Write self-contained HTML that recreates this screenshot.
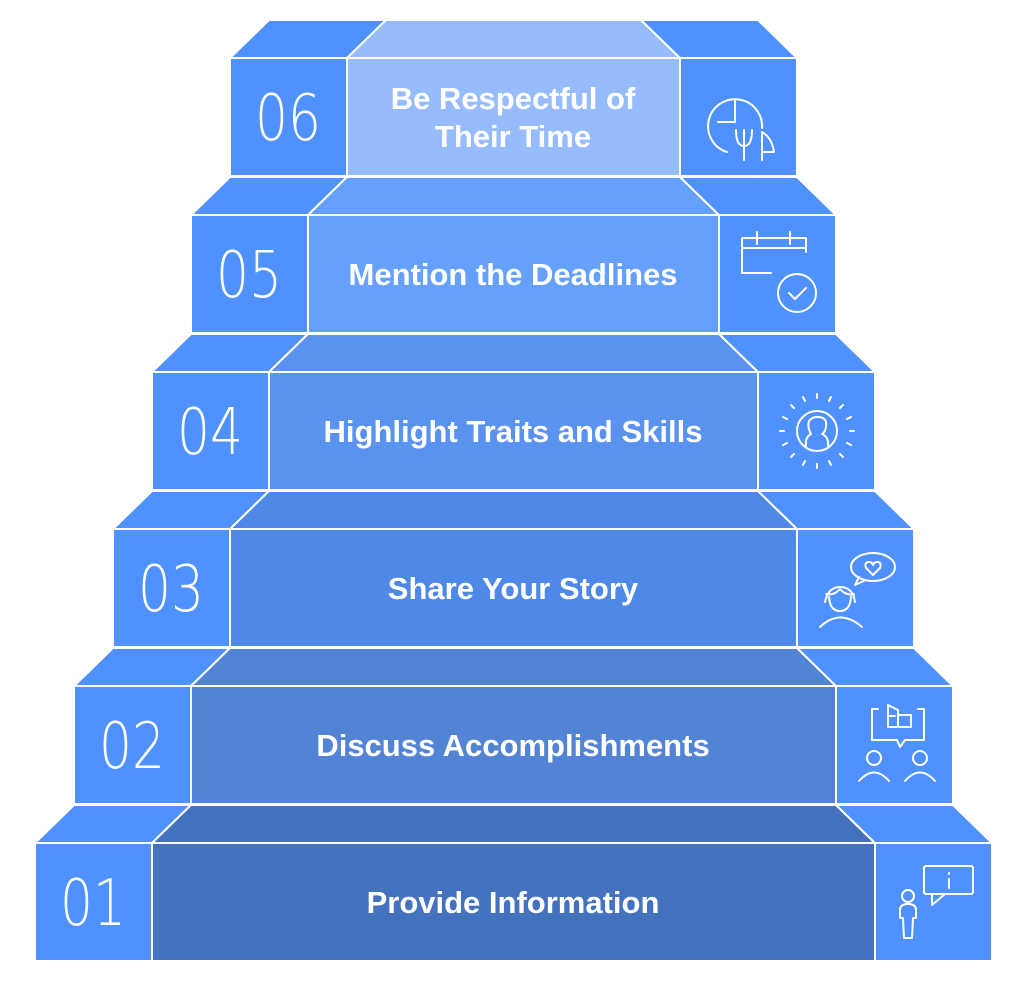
<!DOCTYPE html>
<html><head><meta charset="utf-8"><style>
html,body{margin:0;padding:0;background:#fff;width:1024px;height:993px;overflow:hidden}
svg{display:block}
.t{font-family:"Liberation Sans",sans-serif;font-weight:bold;font-size:31px;fill:#fff;text-anchor:middle}
.n{font-family:"DejaVu Sans ExtraLight","DejaVu Sans",sans-serif;font-weight:200;font-size:64px;fill:#fff;text-anchor:middle}
.s{fill:#4f91fe;stroke:#fff;stroke-width:2;stroke-linejoin:round}
.i{fill:none;stroke:#fff;stroke-width:2;stroke-linecap:round;stroke-linejoin:round}
</style></head><body>
<svg width="1024" height="993" viewBox="0 0 1024 993" xmlns="http://www.w3.org/2000/svg">
<!-- row 6 -->
<g>
<polygon class="s" points="230,58 347,58 386,20 269,20"/>
<polygon class="s" style="fill:#96bcfe" points="347,58 680,58 641,20 386,20"/>
<polygon class="s" points="680,58 797,58 758,20 641,20"/>
<rect class="s" x="230" y="58" width="117" height="118"/>
<rect class="s" style="fill:#96bcfe" x="347" y="58" width="333" height="118"/>
<rect class="s" x="680" y="58" width="117" height="118"/>
<text class="n" x="288" y="140" textLength="66" lengthAdjust="spacingAndGlyphs">06</text>
<text class="t" x="513" y="109">Be Respectful of</text>
<text class="t" x="513" y="147">Their Time</text>
<g class="i"><path d="M727,152 A27,27 0 1 1 762,128"/><path d="M718,122 H735 V101"/><path d="M744,130 V160 M736,130 Q736,146 744,146 Q752,146 752,130"/><path d="M762,160 V132 Q772,138 774,152 H762"/></g>
</g>
<!-- row 5 -->
<g>
<polygon class="s" points="191,215 308,215 347,177 230,177"/>
<polygon class="s" style="fill:#64a0fc" points="308,215 719,215 680,177 347,177"/>
<polygon class="s" points="719,215 836,215 797,177 680,177"/>
<rect class="s" x="191" y="215" width="117" height="118"/>
<rect class="s" style="fill:#64a0fc" x="308" y="215" width="411" height="118"/>
<rect class="s" x="719" y="215" width="117" height="118"/>
<text class="n" x="249" y="297" textLength="66" lengthAdjust="spacingAndGlyphs">05</text>
<text class="t" x="513" y="285">Mention the Deadlines</text>
<g class="i"><path d="M771,273 H742 V238 H806 V252"/><path d="M742,248 H806"/><path d="M757,232 V244 M790,232 V244"/><circle cx="797" cy="293" r="19"/><path d="M789,293 L795,299 L806,288"/></g>
</g>
<!-- row 4 -->
<g>
<polygon class="s" points="152,372 269,372 308,334 191,334"/>
<polygon class="s" style="fill:#5a92f0" points="269,372 758,372 719,334 308,334"/>
<polygon class="s" points="758,372 875,372 836,334 719,334"/>
<rect class="s" x="152" y="372" width="117" height="118"/>
<rect class="s" style="fill:#5a92f0" x="269" y="372" width="489" height="118"/>
<rect class="s" x="758" y="372" width="117" height="118"/>
<text class="n" x="210" y="454" textLength="66" lengthAdjust="spacingAndGlyphs">04</text>
<text class="t" x="513" y="442">Highlight Traits and Skills</text>
<g class="i" transform="translate(817,431)"><circle r="20"/><path d="M-11,15 Q-12,6 -6,3 Q-10,-4 -8,-10 Q-4,-15 2,-14 Q10,-13 9,-6 Q9,1 5,3 Q12,6 11,15"/>
<path d="M0,-37 V-33 M0,33 V37 M-37,0 H-33 M33,0 H37 M-26,-26 L-23,-23 M26,26 L23,23 M-26,26 L-23,23 M26,-26 L23,-23 M-14,-34 L-12,-30 M14,34 L12,30 M-34,-14 L-30,-12 M34,14 L30,12 M14,-34 L12,-30 M-14,34 L-12,30 M34,-14 L30,-12 M-34,14 L-30,12"/></g>
</g>
<!-- row 3 -->
<g>
<polygon class="s" points="113,529 230,529 269,491 152,491"/>
<polygon class="s" style="fill:#4f89e8" points="230,529 797,529 758,491 269,491"/>
<polygon class="s" points="797,529 914,529 875,491 758,491"/>
<rect class="s" x="113" y="529" width="117" height="118"/>
<rect class="s" style="fill:#4f89e8" x="230" y="529" width="567" height="118"/>
<rect class="s" x="797" y="529" width="117" height="118"/>
<text class="n" x="171" y="611" textLength="66" lengthAdjust="spacingAndGlyphs">03</text>
<text class="t" x="513" y="599">Share Your Story</text>
<g class="i"><ellipse cx="873" cy="567" rx="22" ry="14"/><path d="M859,577 L855,585 L866,580"/><path d="M873,575 L866,568 Q864,562 869,562 Q872,562 873,565 Q874,562 877,562 Q882,562 880,568 Z"/><path d="M820,627 Q840,608 862,627"/><path d="M825,602 Q828,587 840,587 Q853,587 855,602 M826,594 Q834,596 840,589 Q846,596 854,594 M829,597 Q830,611 840,611 Q850,611 851,597"/></g>
</g>
<!-- row 2 -->
<g>
<polygon class="s" points="74,686 191,686 230,648 113,648"/>
<polygon class="s" style="fill:#5283d4" points="191,686 836,686 797,648 230,648"/>
<polygon class="s" points="836,686 953,686 914,648 797,648"/>
<rect class="s" x="74" y="686" width="117" height="118"/>
<rect class="s" style="fill:#5283d4" x="191" y="686" width="645" height="118"/>
<rect class="s" x="836" y="686" width="117" height="118"/>
<text class="n" x="132" y="768" textLength="66" lengthAdjust="spacingAndGlyphs">02</text>
<text class="t" x="513" y="756">Discuss Accomplishments</text>
<g class="i"><path d="M878,709 H872 V740 H897 L900,747 L905,740 H924 V709 H918"/><path d="M888,705 V727 H911 V715 H898 M888,716 H895 M888,705 L898,710 V727"/><circle cx="874" cy="758" r="7"/><path d="M859,781 Q874,764 889,781"/><circle cx="920" cy="758" r="7"/><path d="M905,781 Q920,764 935,781"/></g>
</g>
<!-- row 1 -->
<g>
<polygon class="s" points="35,843 152,843 191,805 74,805"/>
<polygon class="s" style="fill:#4472bf" points="152,843 875,843 836,805 191,805"/>
<polygon class="s" points="875,843 992,843 953,805 836,805"/>
<rect class="s" x="35" y="843" width="117" height="118"/>
<rect class="s" style="fill:#4472bf" x="152" y="843" width="723" height="118"/>
<rect class="s" x="875" y="843" width="117" height="118"/>
<text class="n" x="93" y="925" textLength="66" lengthAdjust="spacingAndGlyphs">01</text>
<text class="t" x="513" y="913">Provide Information</text>
<g class="i"><rect x="924" y="866" width="49" height="28" rx="2"/><path d="M932,894 V905 L945,894"/><path d="M949,879 V888 M949,873 V874"/><circle cx="908" cy="896" r="6"/><path d="M900,918 V910 Q900,904 908,904 Q916,904 916,910 V918 H913 L912,938 H904 L903,918 Z"/></g>
</g>
</svg>
</body></html>
